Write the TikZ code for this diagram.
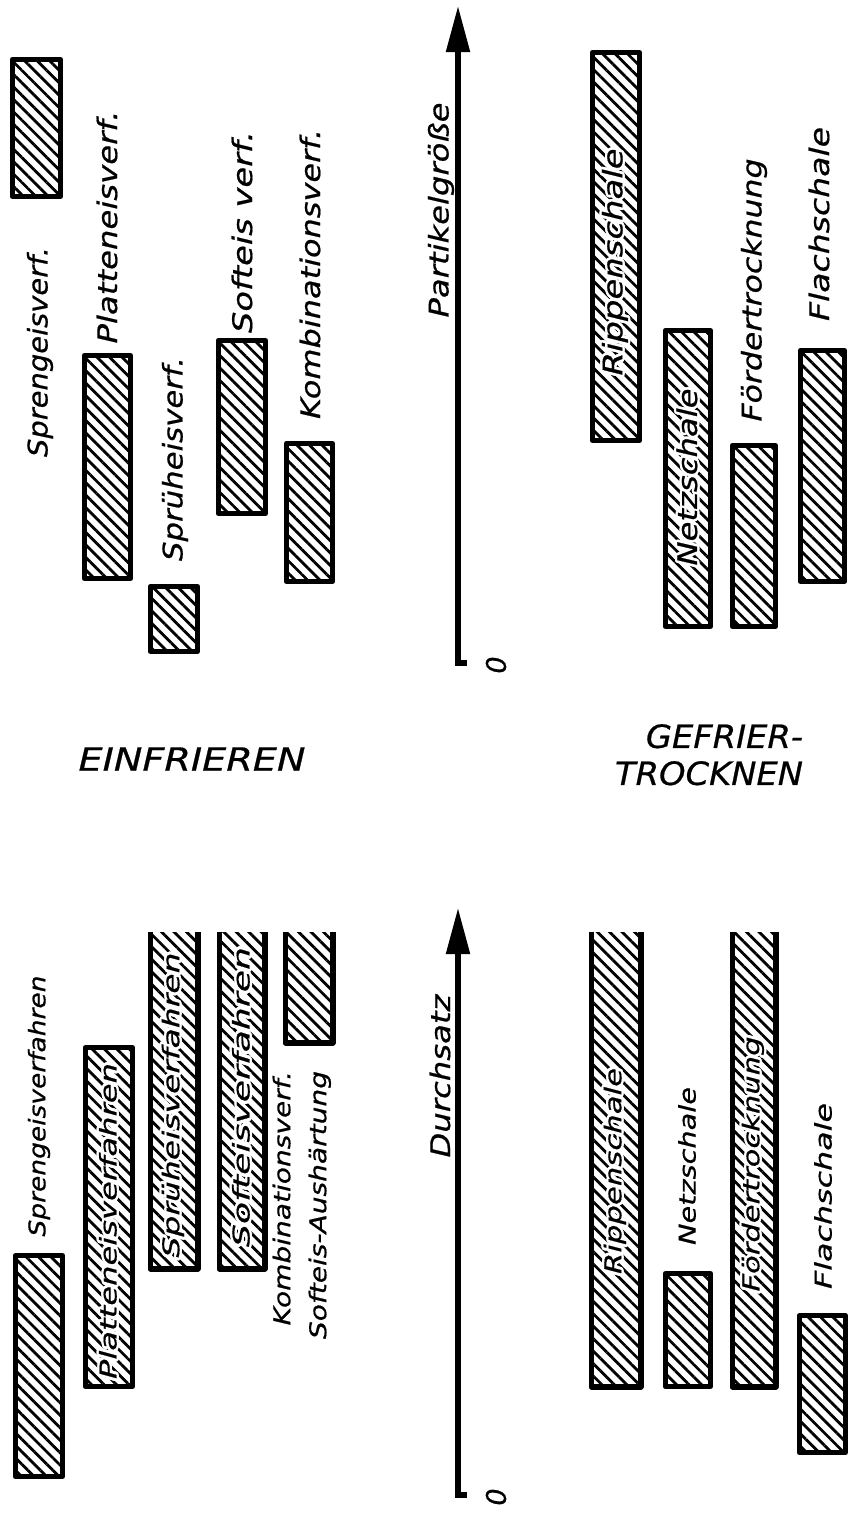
\documentclass[tikz,border=0pt]{standalone}
\usepackage{fontspec}
\setmainfont{DejaVu Sans}[FakeBold=0.6]
\usepackage[copies]{contour}
\contourlength{1.1pt}
\usetikzlibrary{patterns.meta,arrows.meta}
\newcommand{\fl}[2]{\resizebox{#1pt}{\height}{#2}}
\newcommand{\inl}[2]{\resizebox{#1pt}{\height}{\contour{white}{#2}}}
\begin{document}
\begin{tikzpicture}[x=0.5pt,y=-0.5pt,
  hatchfill/.style={pattern={Lines[angle=-45,distance=4.4pt,line width=1.4pt]}},
  bar/.style={draw, line width=2.6pt, line join=round, inner sep=0pt, hatchfill},
  openbar/.style={draw=none, inner sep=0pt, hatchfill},
  rim/.style={line width=2.6pt, line join=round},
  axisline/.style={line width=2.6pt, -{Triangle[length=23pt,width=11.5pt]}},
  lbl/.style={rotate=90, inner sep=0pt, font=\itshape\fontsize{13.5}{16}\selectfont},
  lbls/.style={rotate=90, inner sep=0pt, font=\itshape\fontsize{11.5}{14}\selectfont},
  head/.style={inner sep=0pt, font=\itshape\fontsize{16}{18.5}\selectfont}]
\useasboundingbox (0,0) rectangle (859,1517);

% ---------- upper chart: Partikelgroesse ----------
\node[bar, minimum width=24pt,   minimum height=68.5pt]  (a1) at (36.5,128) {};
\node[bar, minimum width=23pt,   minimum height=111.5pt] (a2) at (107.5,467) {};
\node[bar, minimum width=23.5pt, minimum height=32.5pt]  (a3) at (174,619) {};
\node[bar, minimum width=23.5pt, minimum height=86.5pt]  (a4) at (242,427) {};
\node[bar, minimum width=23pt,   minimum height=69pt]    (a5) at (309.5,512.5) {};
\node[bar, minimum width=23.5pt, minimum height=194pt]   (b1) at (616,246.5) {};
\node[bar, minimum width=22.5pt, minimum height=148pt]   (b2) at (688,478.5) {};
\node[bar, minimum width=21.5pt, minimum height=90.5pt]  (b3) at (754,536) {};
\node[bar, minimum width=22pt,   minimum height=115.5pt] (b4) at (822.5,466) {};

\node[lbl] (la1) at (40,352)  {\fl{105}{Sprengeisverf.}};
\node[lbl] (la2) at (107,227) {\fl{116.5}{Platteneisverf.}};
\node[lbl] (la3) at (175,459) {\fl{102}{Sprüheisverf.}};
\node[lbl] (la4) at (242,232) {\fl{101}{Softeis verf.}};
\node[lbl] (la5) at (310,274) {\fl{145}{Kombinationsverf.}};
\node[lbl] (lb1) at (616,262) {\inl{113.5}{Rippenschale}};
\node[lbl] (lb2) at (688,477) {\inl{88.5}{Netzschale}};
\node[lbl] (lb3) at (754,290) {\fl{131.5}{Fördertrocknung}};
\node[lbl] (lb4) at (819,224) {\fl{97}{Flachschale}};

\coordinate (axAtip) at (458,6);
\coordinate (axAbot) at (458,663);
\coordinate (axAtick) at (467,663);
\draw[axisline] (axAtick) -- (axAbot) -- (axAtip);
\node[lbl] (axAlab) at (441,210) {\fl{107.5}{Partikelgröße}};
\node[lbl] (axAzero) at (496,665) {0};

% ---------- headings ----------
\node[head] (h1) at (192,759) {\fl{113.5}{EINFRIEREN}};
\node[head] (h2) at (709,759) {\fl{94}{\begin{tabular}{@{}r@{}}GEFRIER-\\TROCKNEN\end{tabular}}};

% ---------- lower chart: Durchsatz ----------
\node[bar, minimum width=23.5pt, minimum height=110.5pt] (c1) at (39,1366) {};
\node[bar, minimum width=23.5pt, minimum height=169.5pt] (c2) at (109,1217) {};
\node[openbar, minimum width=23.5pt, minimum height=168.25pt] (c3) at (174,1100.25) {};
\node[openbar, minimum width=22.5pt, minimum height=168.25pt] (c4) at (242,1100.25) {};
\node[openbar, minimum width=23.5pt, minimum height=55.25pt]  (c5) at (309,987.25) {};
\node[openbar, minimum width=24.5pt, minimum height=227.25pt] (d1) at (616,1159.25) {};
\node[bar, minimum width=22.5pt, minimum height=56.5pt]  (d2) at (688,1330) {};
\node[openbar, minimum width=21.5pt, minimum height=227.25pt] (d3) at (754,1159.25) {};
\node[bar, minimum width=23pt, minimum height=68.5pt]    (d4) at (822.5,1384) {};
\foreach \n in {c3,c4,c5,d1,d3}
  \draw[rim] (\n.north west) -- (\n.south west) -- (\n.south east) -- (\n.north east);

\node[lbls] (lc1) at (39,1106)  {\fl{130.5}{Sprengeisverfahren}};
\node[lbls] (lc2) at (109,1221) {\inl{158}{Platteneisverfahren}};
\node[lbls] (lc3) at (174,1105) {\inl{152.5}{Sprüheisverfahren}};
\node[lbls] (lc4) at (242,1097) {\inl{150}{Softeisverfahren}};
\node[lbls] (lc5) at (301,1205) {\fl{134}{\fontsize{11.5}{18}\selectfont\begin{tabular}{@{}r@{}}Kombinationsverf.\\Softeis-Aushärtung\end{tabular}}};
\node[lbls] (ld1) at (616,1171) {\inl{103}{Rippenschale}};
\node[lbls] (ld2) at (687,1166) {\fl{79}{Netzschale}};
\node[lbls] (ld3) at (754,1164) {\inl{127.5}{Fördertrocknung}};
\node[lbls] (ld4) at (823,1196) {\fl{93}{Flachschale}};

\coordinate (axBtip) at (458,908);
\coordinate (axBbot) at (458,1495);
\coordinate (axBtick) at (467,1495);
\draw[axisline] (axBtick) -- (axBbot) -- (axBtip);
\node[lbl] (axBlab) at (440,1076) {\fl{81.5}{Durchsatz}};
\node[lbl] (axBzero) at (496,1497) {0};
\end{tikzpicture}
\end{document}
